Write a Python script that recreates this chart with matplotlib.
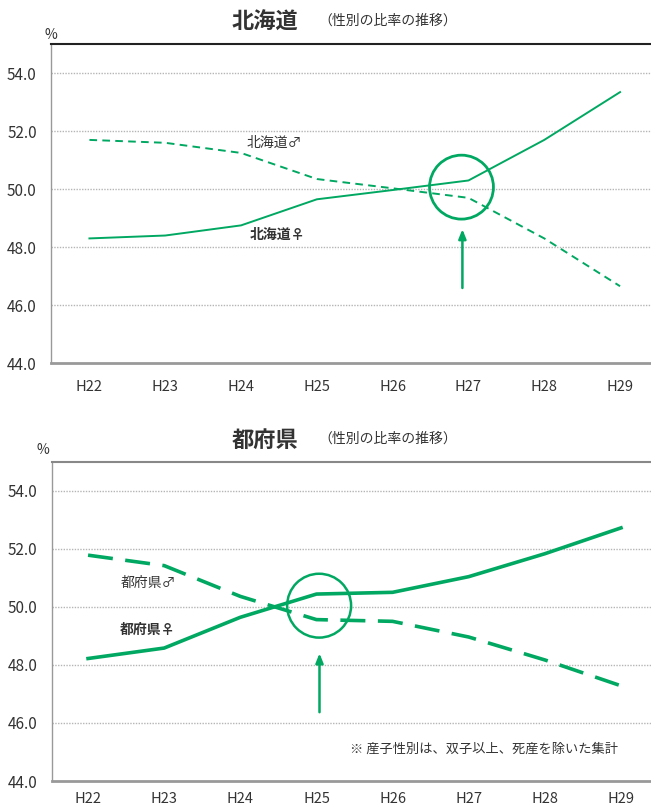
import matplotlib
matplotlib.use("Agg")
import matplotlib.pyplot as plt
from matplotlib.patches import Ellipse

plt.rcParams['font.family'] = ['Noto Sans CJK JP', 'DejaVu Sans']
plt.rcParams['lines.scale_dashes'] = False

years = ["H22", "H23", "H24", "H25", "H26", "H27", "H28", "H29"]
hk_female = [48.3, 48.4, 48.75, 49.65, 49.97, 50.3, 51.7, 53.35]
hk_male = [51.7, 51.6, 51.25, 50.35, 50.03, 49.7, 48.3, 46.65]
pref_female = [48.22, 48.58, 49.64, 50.44, 50.5, 51.04, 51.83, 52.72]
pref_male = [51.78, 51.42, 50.36, 49.56, 49.5, 48.96, 48.17, 47.28]
yticks = [44.0, 46.0, 48.0, 50.0, 52.0, 54.0]

GREEN = "#00a862"
TXT = "#333333"
W, H = 651, 805

fig = plt.figure(figsize=(W / 100, H / 100), dpi=100)

def fx(px):
    return px / W

def fy(py):
    return 1 - py / H

def setup(ax, xlim, topcolor, pad):
    ax.set_xlim(*xlim)
    ax.set_ylim(44, 55)
    ax.set_xticks(range(len(years)))
    ax.set_xticklabels(years)
    ax.set_yticks(yticks)
    ax.set_yticklabels([f"{v:.1f}" for v in yticks])
    ax.tick_params(length=0, labelsize=10.5, labelcolor=TXT)
    ax.tick_params(axis='x', pad=pad)
    ax.tick_params(axis='y', pad=10, labelsize=11)
    for v in yticks[1:]:
        ax.axhline(v, color="#b5b5b5", lw=1, ls=(0, (1, 1)), zorder=1)
    ax.spines['right'].set_visible(False)
    ax.spines['top'].set_color(topcolor)
    ax.spines['top'].set_linewidth(1.5)
    ax.spines['left'].set_color("#999999")
    ax.spines['left'].set_linewidth(1.0)
    ax.spines['bottom'].set_color("#999999")
    ax.spines['bottom'].set_linewidth(2.0)

x = list(range(len(years)))
ARROW = dict(arrowstyle="-|>,head_length=0.55,head_width=0.22", color=GREEN, lw=1.8,
             shrinkA=0, shrinkB=0)

# ---------- top chart (北海道) ----------
ax1 = fig.add_axes([fx(50.7), fy(363), 1 - fx(50.7), fy(44.3) - fy(363)])
setup(ax1, (-0.511, 7.408), "#222222", 12)
ax1.plot(x, hk_female, color=GREEN, lw=1.4, zorder=3)
ax1.plot(x, hk_male, color=GREEN, lw=1.4, dashes=(5.5, 3.8), zorder=3)
ax1.add_patch(Ellipse((4.908, 50.07), 0.843, 2.207, fill=False, ec=GREEN, lw=2.0, zorder=4))
ax1.annotate("", xy=(4.92, 48.62), xytext=(4.92, 46.59), arrowprops=ARROW)
ax1.text(2.075, 51.59, "北海道♂", fontsize=10, color=TXT, va="center", ha="left")
ax1.text(2.11, 48.41, "北海道♀", fontsize=10, color=TXT, va="center", ha="left", fontweight="bold")

fig.text(fx(265), fy(22), "北海道", fontsize=16, fontweight="bold", color=TXT, ha="center", va="center")
fig.text(fx(318), fy(21), "（性別の比率の推移）", fontsize=10, color=TXT, ha="left", va="center")
fig.text(fx(51), fy(35), "%", fontsize=10, color=TXT, ha="center", va="center")

# ---------- bottom chart (都府県) ----------
ax2 = fig.add_axes([fx(51.5), fy(781), 1 - fx(51.5), fy(461.7) - fy(781)])
setup(ax2, (-0.48, 7.394), "#888888", 8)
ax2.plot(x, pref_female, color=GREEN, lw=2.6, zorder=3)
ax2.plot(x, pref_male, color=GREEN, lw=2.6, dashes=(18, 9), zorder=3)
ax2.add_patch(Ellipse((3.035, 50.04), 0.84, 2.2, fill=False, ec=GREEN, lw=1.8, zorder=4))
ax2.annotate("", xy=(3.04, 48.40), xytext=(3.04, 46.37), arrowprops=ARROW)
ax2.text(0.434, 50.83, "都府県♂", fontsize=10, color=TXT, va="center", ha="left")
ax2.text(0.42, 49.19, "都府県♀", fontsize=10, color=TXT, va="center", ha="left", fontweight="bold")

fig.text(fx(265), fy(440), "都府県", fontsize=16, fontweight="bold", color=TXT, ha="center", va="center")
fig.text(fx(318), fy(439), "（性別の比率の推移）", fontsize=10, color=TXT, ha="left", va="center")
fig.text(fx(43), fy(450), "%", fontsize=10, color=TXT, ha="center", va="center")

fig.text(fx(350), fy(749), "※ 産子性別は、双子以上、死産を除いた集計", fontsize=9.5, color=TXT,
         ha="left", va="center")

fig.savefig("out.png", dpi=100)
